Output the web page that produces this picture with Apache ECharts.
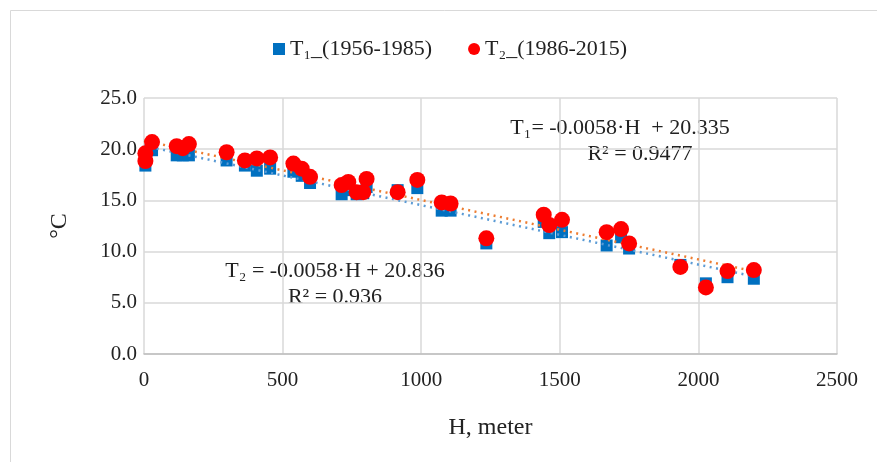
<!DOCTYPE html>
<html>
<head>
<meta charset="utf-8">
<script src="https://cdn.jsdelivr.net/npm/echarts@6/dist/echarts.min.js"></script>
<style>
html,body{margin:0;padding:0;background:#fff;}
#c{width:877px;height:462px;}
</style>
</head>
<body>
<div id="c"></div>
<script>
const heights = [5, 5, 29, 118, 140, 162, 298, 364, 407, 455, 539, 569, 599, 713, 737, 767, 791, 803, 915, 986, 1074, 1106, 1235, 1442, 1462, 1508, 1669, 1721, 1750, 1935, 2027, 2105, 2200];
const t1Values = [18.4, 19.0, 19.9, 19.4, 19.4, 19.4, 18.9, 18.4, 17.9, 18.1, 17.8, 17.4, 16.7, 15.6, 16.0, 15.6, 15.7, 16.3, 16.0, 16.2, 14.0, 14.0, 10.8, 12.9, 11.8, 11.9, 10.6, 11.4, 10.3, 8.7, 6.9, 7.5, 7.35];
const t2Values = [19.6, 18.85, 20.7, 20.3, 20.1, 20.5, 19.7, 18.9, 19.1, 19.2, 18.6, 18.1, 17.3, 16.5, 16.8, 15.8, 15.8, 17.1, 15.8, 17.0, 14.8, 14.7, 11.3, 13.6, 12.6, 13.1, 11.9, 12.2, 10.8, 8.5, 6.5, 8.1, 8.2];
const trend1 = {slope: -0.0058, intercept: 20.335};
const trend2 = {slope: -0.0058, intercept: 20.836};
const trendRange = [0, 2200];
const xTicks = [0, 500, 1000, 1500, 2000, 2500];
const yTicks = [0, 5, 10, 15, 20, 25];

const font = '"Liberation Serif", "Times New Roman", serif';
const pts = (vals) => heights.map((h, i) => [h, vals[i]]);
const trendPts = (t) => trendRange.map(h => [h, t.slope * h + t.intercept]);

const chart = echarts.init(document.getElementById('c'), null, {renderer: 'canvas'});
chart.setOption({
  animation: false,
  backgroundColor: '#fff',
  textStyle: {fontFamily: font},
  legend: {
    top: 33,
    left: 268,
    itemGap: 36,
    itemWidth: 12,
    itemHeight: 12,
    textStyle: {fontFamily: font, fontSize: 22, color: '#222'},
    data: [
      {name: 'T\u2081_(1956-1985)', icon: 'rect'},
      {name: 'T\u2082_(1986-2015)', icon: 'circle'}
    ]
  },
  grid: {left: 144, right: 40, top: 98, bottom: 108, containLabel: false},
  xAxis: {
    type: 'value', min: 0, max: 2500, interval: 500,
    name: 'H, meter', nameLocation: 'middle', nameGap: 62,
    nameTextStyle: {fontFamily: font, fontSize: 24, color: '#222'},
    axisLine: {show: true, lineStyle: {color: '#bfbfbf', width: 1.5}},
    axisTick: {show: false},
    axisLabel: {fontFamily: font, fontSize: 21, color: '#222', margin: 16, formatter: v => String(v)},
    splitLine: {show: true, lineStyle: {color: '#d9d9d9', width: 1.5}}
  },
  yAxis: {
    type: 'value', min: 0, max: 25, interval: 5,
    name: '\u00B0C', nameLocation: 'middle', nameGap: 72, nameRotate: 90,
    nameTextStyle: {fontFamily: font, fontSize: 24, color: '#222'},
    axisLine: {show: false},
    axisTick: {show: false},
    axisLabel: {fontFamily: font, fontSize: 21, color: '#222', margin: 7, formatter: v => v.toFixed(1)},
    splitLine: {show: true, lineStyle: {color: '#d9d9d9', width: 1.5}}
  },
  series: [
    {
      name: 'T\u2081 trend', type: 'line', data: trendPts(trend1), symbol: 'none',
      lineStyle: {color: '#5B9BD5', width: 2.5, type: [2, 4.5]}, z: 3, silent: true
    },
    {
      name: 'T\u2082 trend', type: 'line', data: trendPts(trend2), symbol: 'none',
      lineStyle: {color: '#ED7D31', width: 2.5, type: [2, 4.5]}, z: 3, silent: true
    },
    {
      name: 'T\u2081_(1956-1985)', type: 'scatter', data: pts(t1Values),
      symbol: 'rect', symbolSize: 12, itemStyle: {color: '#0070C0', opacity: 1}, z: 2
    },
    {
      name: 'T\u2082_(1986-2015)', type: 'scatter', data: pts(t2Values),
      symbol: 'circle', symbolSize: 16, itemStyle: {color: '#FF0000', opacity: 1}, z: 4
    }
  ],
  graphic: [
    {type: 'rect', left: 8, top: 8, shape: {width: 900, height: 470}, style: {fill: 'none', stroke: '#d9d9d9', lineWidth: 1}, silent: true, z: -1},
    {type: 'text', x: 620, y: 128, style: {text: 'T\u2081= -0.0058\u00B7H  + 20.335', font: '22px ' + font, fill: '#222', textAlign: 'center', textVerticalAlign: 'middle'}},
    {type: 'text', x: 640, y: 154, style: {text: 'R\u00B2 = 0.9477', font: '22px ' + font, fill: '#222', textAlign: 'center', textVerticalAlign: 'middle'}},
    {type: 'text', x: 335, y: 271, style: {text: 'T\u2082 = -0.0058\u00B7H + 20.836', font: '22px ' + font, fill: '#222', textAlign: 'center', textVerticalAlign: 'middle'}},
    {type: 'text', x: 335, y: 297, style: {text: 'R\u00B2 = 0.936', font: '22px ' + font, fill: '#222', textAlign: 'center', textVerticalAlign: 'middle'}}
  ]
});
</script>
</body>
</html>
